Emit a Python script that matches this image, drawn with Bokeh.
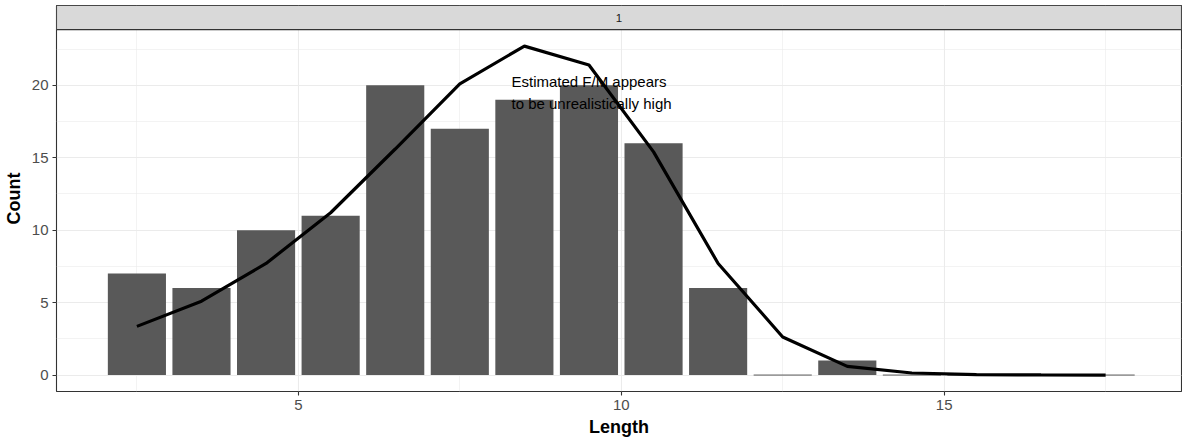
import numpy as np
from bokeh.plotting import figure
from bokeh.models import FixedTicker, Range1d
from bokeh.core.properties import value
from bokeh.embed import file_html
from bokeh.resources import INLINE

# ---- data ----
length_bins = [2.5, 3.5, 4.5, 5.5, 6.5, 7.5, 8.5, 9.5, 10.5, 11.5, 12.5, 13.5, 14.5, 15.5, 16.5, 17.5]
counts = [7, 6, 10, 11, 20, 17, 19, 20, 16, 6, 0, 1, 0, 0, 0, 0]
fitted = [3.36, 5.1, 7.7, 11.2, 15.6, 20.1, 22.7, 21.4, 15.4, 7.7, 2.63, 0.6, 0.14, 0.03, 0.01, 0.0]
x_ticks = [5, 10, 15]
x_minor = [2.5, 7.5, 12.5, 17.5]
y_ticks = [0, 5, 10, 15, 20]
y_minor = [2.5, 7.5, 12.5, 17.5, 22.5]
facet_label = "1"
annotation_lines = ["Estimated F/M appears", "to be unrealistically high"]
annotation_x = 8.3
annotation_y = [20.23, 18.75]
x_label = "Length"
y_label = "Count"

# ---- styling / layout ----
FONT = "Liberation Sans"
BAR_W = 0.9
W, H = 1182, 439
BL, BR, BT, BB = 56, 1, 5, 46
STRIP_PX = 24.3

data_max = max(max(counts), max(fitted))
y_lo = -0.05 * data_max
panel_hi = 1.05 * data_max
frame_h = H - BT - BB
units_per_px = (panel_hi - y_lo) / (frame_h - STRIP_PX)
y_hi = panel_hi + STRIP_PX * units_per_px

x_lo, x_hi = 1.255, 18.675

p = figure(width=W, height=H, output_backend="svg", toolbar_location=None,
           x_range=Range1d(x_lo, x_hi), y_range=Range1d(y_lo, y_hi),
           min_border_left=BL, min_border_right=BR, min_border_top=BT, min_border_bottom=BB)
p.background_fill_color = "white"
p.border_fill_color = "white"
p.outline_line_color = "#333333"
p.outline_line_width = 1.1

# grids
p.xgrid.ticker = FixedTicker(ticks=x_ticks, minor_ticks=x_minor)
p.ygrid.ticker = FixedTicker(ticks=y_ticks, minor_ticks=y_minor)
for g in (p.xgrid, p.ygrid):
    g.grid_line_color = "#ebebeb"
    g.grid_line_width = 1.1
    g.minor_grid_line_color = "#ebebeb"
    g.minor_grid_line_width = 0.6

# axes
p.xaxis.ticker = FixedTicker(ticks=x_ticks)
p.yaxis.ticker = FixedTicker(ticks=y_ticks)
for ax in (p.xaxis, p.yaxis):
    ax.axis_line_color = None
    ax.major_tick_line_color = "#333333"
    ax.major_tick_line_width = 1.1
    ax.major_tick_in = 0
    ax.major_tick_out = 4
    ax.minor_tick_line_color = None
    ax.major_label_text_font = FONT
    ax.major_label_text_font_size = "15px"
    ax.major_label_text_color = "#4d4d4d"
    ax.major_label_standoff = 4
    ax.axis_label_text_font = FONT
    ax.axis_label_text_font_size = "18px"
    ax.axis_label_text_font_style = "bold"
    ax.axis_label_text_color = "black"
p.xaxis.axis_label = x_label
p.yaxis.axis_label = y_label
p.xaxis.axis_label_standoff = 4
p.yaxis.axis_label_standoff = 5

# bars
xs = np.array(length_bins)
cs = np.array(counts)
p.vbar(x=xs, top=cs, width=BAR_W, bottom=0, fill_color="#595959", line_color=None)
zero = cs == 0
p.segment(x0=xs[zero] - BAR_W / 2, x1=xs[zero] + BAR_W / 2, y0=cs[zero], y1=cs[zero],
          line_color="#595959", line_width=1)

# fitted line
p.line(x=length_bins, y=fitted, line_color="black", line_width=3.2)

# annotation
p.text(x=[annotation_x] * len(annotation_lines), y=annotation_y, text=annotation_lines,
       text_font=value(FONT), text_font_size="15px", text_color="black",
       text_align="left", text_baseline="alphabetic")

# facet strip
p.quad(left=[x_lo], right=[x_hi], bottom=[panel_hi], top=[y_hi],
       fill_color="#d9d9d9", line_color="#333333", line_width=1.1)
p.text(x=[(x_lo + x_hi) / 2], y=[(panel_hi + y_hi) / 2], text=[facet_label],
       text_font=value(FONT), text_font_size="11.5px", text_color="#1a1a1a",
       text_align="center", text_baseline="middle")

open("out.html", "w").write(file_html(p, INLINE))
